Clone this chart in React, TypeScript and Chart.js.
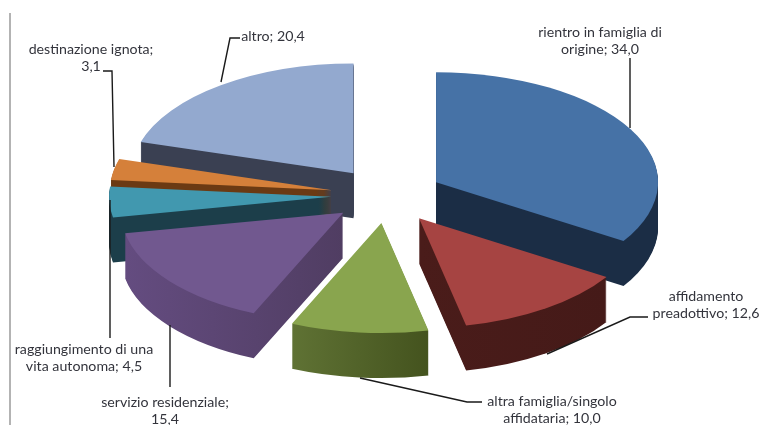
import { useEffect, useRef } from "react";
import { Chart, registerables } from "chart.js";

Chart.register(...registerables);

const categories = [
  "rientro in famiglia di origine",
  "affidamento preadottivo",
  "altra famiglia/singolo affidataria",
  "servizio residenziale",
  "raggiungimento di una vita autonoma",
  "destinazione ignota",
  "altro",
];
const values = [34.0, 12.6, 10.0, 15.4, 4.5, 3.1, 20.4];

const topColors = ["#4672A6", "#A64442", "#89A54E", "#71588F", "#4198AF", "#D5803A", "#93A9CF"];
const wallLeft = ["#1B2D45", "#4A1C1A", "#5F7234", "#644C80", "#1C3E4A", "#6B3A13", "#3A4052"];
const wallRight = ["#1B2D45", "#451A18", "#44531E", "#503D62", "#1C3E4A", "#6B3A13", "#3A4052"];

// Back-to-front order for the extruded side walls.
const wallOrder = [6, 5, 4, 0, 3, 1, 2];

const labelTemplates = [
  "rientro in famiglia di\norigine; {v}",
  "affidamento\npreadottivo; {v}",
  "altra famiglia/singolo\naffidataria; {v}",
  "servizio residenziale;\n{v}",
  "raggiungimento di una\nvita autonoma; {v}",
  "destinazione ignota;\n{v}",
  "altro; {v}",
];
const labelCentres = [
  [600, 32],
  [706, 296],
  [552, 401],
  [165, 402],
  [84, 349],
  [91, 49],
  [273, 36],
];
const leaderLines = [
  [[630, 58], [630, 128]],
  [[648, 317], [630, 317], [547, 354]],
  [[482, 402], [467, 402], [360, 378]],
  [[170, 387], [170, 325]],
  [[110, 338], [110, 200]],
  [[103, 71], [112, 71], [114, 167]],
  [[240, 38], [230, 38], [221, 82]],
];

const TILT = 0.495;
const EXPLODE = 56;
const DEPTH = 45;
const FONT = "14.2px Lato, sans-serif";
const LINE_HEIGHT = 17.5;

const formatValue = (v: number) => v.toFixed(1).replace(".", ",");

const tiltedPie = {
  id: "tiltedPie",
  beforeDatasetsDraw(chart: any) {
    const { ctx } = chart;
    const arcs = chart.getDatasetMeta(0).data;

    const place = (arc: any, dy: number) => {
      const half = (arc.startAngle + arc.endAngle) / 2;
      ctx.translate(0, arc.y + dy);
      ctx.scale(1, TILT);
      ctx.translate(0, -arc.y);
      ctx.translate(Math.cos(half) * EXPLODE, Math.sin(half) * EXPLODE);
    };

    // Side walls: the slice repeated downward in its shaded colour.
    for (const i of wallOrder) {
      const arc = arcs[i];
      const base = arc.options;
      const half = (arc.startAngle + arc.endAngle) / 2;
      const angles = [arc.startAngle, arc.endAngle, half];
      const xs = angles.map((a: number) => arc.x + Math.cos(a) * arc.outerRadius);
      const grad = ctx.createLinearGradient(Math.min(...xs, arc.x), 0, Math.max(...xs, arc.x), 0);
      grad.addColorStop(0, wallLeft[i]);
      grad.addColorStop(1, wallRight[i]);
      arc.options = { ...base, backgroundColor: grad };
      for (let d = DEPTH; d >= 1; d -= 1) {
        ctx.save();
        place(arc, d);
        arc.draw(ctx);
        ctx.restore();
      }
      arc.options = base;
    }

    // Top faces.
    arcs.forEach((arc: any) => {
      ctx.save();
      place(arc, 0);
      arc.draw(ctx);
      ctx.restore();
    });
    return false;
  },
  afterDraw(chart: any) {
    const { ctx } = chart;
    ctx.save();

    // Left rule.
    ctx.strokeStyle = "#9A9A9A";
    ctx.lineWidth = 1.5;
    ctx.beginPath();
    ctx.moveTo(10, 13);
    ctx.lineTo(10, 425);
    ctx.stroke();

    // Leader lines.
    ctx.strokeStyle = "#1A1A1A";
    ctx.lineWidth = 1.4;
    for (const line of leaderLines) {
      ctx.beginPath();
      line.forEach(([x, y], k) => (k ? ctx.lineTo(x, y) : ctx.moveTo(x, y)));
      ctx.stroke();
    }

    // Slice labels.
    ctx.font = FONT;
    ctx.fillStyle = "#33343C";
    ctx.textAlign = "center";
    ctx.textBaseline = "middle";
    labelTemplates.forEach((tpl, i) => {
      const [cx, cy] = labelCentres[i];
      tpl
        .replace("{v}", formatValue(values[i]))
        .split("\n")
        .forEach((text, k) => ctx.fillText(text, cx, cy + k * LINE_HEIGHT));
    });
    ctx.restore();
  },
};

export default function App() {
  const ref = useRef<HTMLCanvasElement>(null);

  useEffect(() => {
    const chart = new Chart(ref.current as HTMLCanvasElement, {
      type: "pie",
      data: {
        labels: categories,
        datasets: [{ data: values, backgroundColor: topColors, borderWidth: 0 }],
      },
      options: {
        animation: false,
        responsive: false,
        radius: 222,
        layout: { padding: { left: 13, bottom: 34 } },
        plugins: { legend: { display: false }, tooltip: { enabled: false } },
      } as any,
      plugins: [tiltedPie],
    });
    return () => chart.destroy();
  }, []);

  return (
    <div style={{ position: "fixed", left: 0, top: 0, width: 761, height: 425, background: "#fff" }}>
      <canvas ref={ref} width={761} height={425} style={{ display: "block" }} />
    </div>
  );
}
